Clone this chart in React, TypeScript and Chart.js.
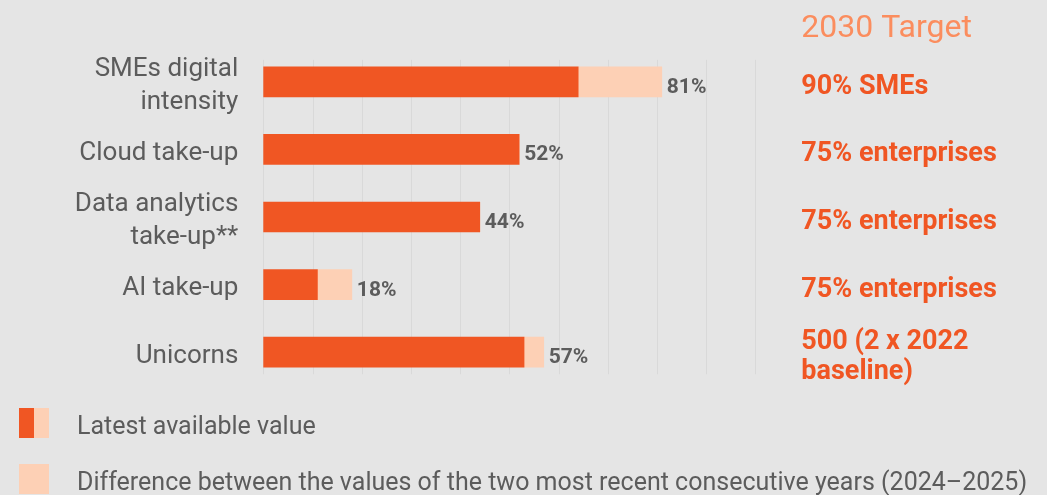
import React, { useEffect, useRef } from "react";
import { Chart, registerables } from "chart.js";

Chart.register(...registerables);

const categories: (string | string[])[] = [
  ["SMEs digital", "intensity"],
  "Cloud take-up",
  ["Data analytics", "take-up**"],
  "AI take-up",
  "Unicorns",
];
const previousValue = [64, 52, 44, 11, 53];
const yearDifference = [17, 0, 0, 7, 4];
const latestValue = [81, 52, 44, 18, 57];
const targets: (string | string[])[] = [
  "90% SMEs",
  "75% enterprises",
  "75% enterprises",
  "75% enterprises",
  ["500 (2 x 2022", "baseline)"],
];
const gridValues = [0, 10, 20, 30, 40, 50, 60, 70, 80, 90, 100];
const targetTitle = "2030 Target";
const legendLabels = [
  "Latest available value",
  "Difference between the values of the two most recent consecutive years (2024\u20132025)",
];

const DARK = "#f05623";
const LIGHT = "#fdd0b5";
const BG = "#e5e5e5";
const GRAY = "#5c5c5c";
const FONT = "Roboto";

export default function App() {
  const ref = useRef<HTMLCanvasElement | null>(null);

  useEffect(() => {
    document.body.style.margin = "0";
    document.body.style.background = BG;
    const canvas = ref.current;
    if (!canvas) return;

    const overlay = {
      id: "overlay",
      beforeDatasetsDraw(chart: any) {
        const { ctx } = chart;
        const x = chart.scales.x;
        const y = chart.scales.y;
        const top = y.getPixelForValue(0) - 22;
        const bottom = y.getPixelForValue(categories.length - 1) + 22;
        ctx.save();
        ctx.strokeStyle = "#d9d9d9";
        ctx.lineWidth = 1;
        gridValues.forEach((v) => {
          const px = Math.round(x.getPixelForValue(v)) + 0.5;
          ctx.beginPath();
          ctx.moveTo(px, top);
          ctx.lineTo(px, bottom);
          ctx.stroke();
        });
        ctx.restore();
      },
      afterDraw(chart: any) {
        const { ctx } = chart;
        const x = chart.scales.x;
        const y = chart.scales.y;
        ctx.save();
        ctx.textAlign = "left";
        ctx.textBaseline = "alphabetic";
        // value labels
        ctx.font = `bold 21px ${FONT}`;
        ctx.fillStyle = GRAY;
        latestValue.forEach((v, i) => {
          ctx.fillText(`${v}%`, x.getPixelForValue(v) + 5, y.getPixelForValue(i) + 11);
        });
        // targets
        const tx = chart.chartArea.right + 46;
        ctx.font = `32px ${FONT}`;
        ctx.fillStyle = "#fb8d5e";
        ctx.fillText(targetTitle, tx, 37);
        ctx.font = `bold 27px ${FONT}`;
        ctx.fillStyle = DARK;
        targets.forEach((t, i) => {
          const lines = Array.isArray(t) ? t : [t];
          const lh = 30;
          const base = y.getPixelForValue(i) + 12;
          lines.forEach((line, j) => {
            ctx.fillText(line, tx, base + (j - (lines.length - 1) / 2) * lh);
          });
        });
        // legend
        const lx = 19;
        const boxes = [423, 479];
        ctx.fillStyle = DARK;
        ctx.fillRect(lx, boxes[0] - 15, 15, 30);
        ctx.fillStyle = LIGHT;
        ctx.fillRect(lx + 15, boxes[0] - 15, 15, 30);
        ctx.fillRect(lx, boxes[1] - 15, 30, 30);
        ctx.font = `25px ${FONT}`;
        ctx.fillStyle = GRAY;
        legendLabels.forEach((l, i) => {
          ctx.fillText(l, 77, boxes[i] + 11);
        });
        ctx.restore();
      },
    };

    const chart = new Chart(canvas, {
      type: "bar",
      data: {
        labels: categories,
        datasets: [
          {
            label: "Latest available value",
            data: previousValue,
            backgroundColor: DARK,
            barThickness: 30,
          },
          {
            label: "Difference",
            data: yearDifference,
            backgroundColor: LIGHT,
            barThickness: 30,
          },
        ],
      },
      options: {
        indexAxis: "y",
        animation: false,
        responsive: true,
        maintainAspectRatio: false,
        layout: { padding: { top: 48, bottom: 109, right: 291.7, left: 0 } },
        plugins: {
          legend: { display: false },
          tooltip: { enabled: false },
        },
        scales: {
          x: {
            stacked: true,
            min: 0,
            max: 100,
            display: false,
          },
          y: {
            stacked: true,
            grid: { display: false, drawTicks: false },
            border: { display: false },
            ticks: {
              color: GRAY,
              padding: 25,
              autoSkip: false,
              labelOffset: 4,
              font: { family: FONT, size: 26, lineHeight: 1.25 },
            },
            afterFit: (scale: any) => {
              scale.width = 263.3;
            },
          },
        },
      },
      plugins: [overlay],
    });
    return () => chart.destroy();
  }, []);

  return (
    <div style={{ position: "relative", width: 1047, height: 495, background: BG }}>
      <canvas ref={ref} />
    </div>
  );
}
